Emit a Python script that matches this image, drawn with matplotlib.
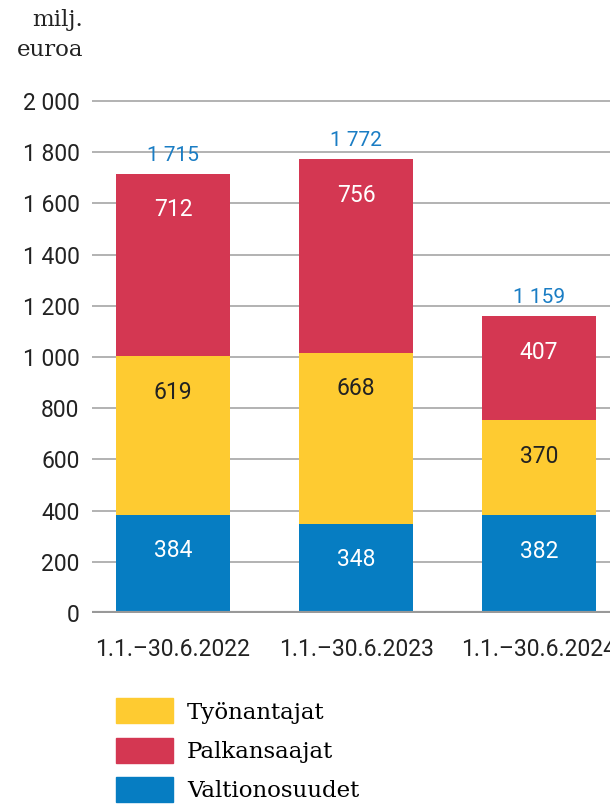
import matplotlib
matplotlib.use("Agg")
import matplotlib.pyplot as plt
from matplotlib.patches import Patch

periods = ["1.1.\u201330.6.2022", "1.1.\u201330.6.2023", "1.1.\u201330.6.2024"]
valtionosuudet = [384, 348, 382]
tyonantajat = [619, 668, 370]
palkansaajat = [712, 756, 407]
totals = [1715, 1772, 1159]
yticks = [0, 200, 400, 600, 800, 1000, 1200, 1400, 1600, 1800, 2000]

BLUE = "#067dc2"
YELLOW = "#fecb31"
RED = "#d43752"
TOTAL_BLUE = "#1a7dc4"
GRID = "#a6a6a6"
TXT = "#222222"
FS = 16.5

plt.rcParams["font.family"] = ["Roboto", "DejaVu Sans"]


def fmt(v):
    return f"{v:,}".replace(",", " ")


fig = plt.figure(figsize=(6.10, 8.07), dpi=100)
ax = fig.add_axes([0.1508, 0.2404, 0.8492, 0.6503])

x = list(range(len(periods)))
w = 0.62
ax.bar(x, valtionosuudet, w, color=BLUE, zorder=3)
ax.bar(x, tyonantajat, w, bottom=valtionosuudet, color=YELLOW, zorder=3)
bottom2 = [a + b for a, b in zip(valtionosuudet, tyonantajat)]
ax.bar(x, palkansaajat, w, bottom=bottom2, color=RED, zorder=3)

# segment labels, placed just below the top of each segment
off = 140
for i in x:
    ax.text(i, valtionosuudet[i] - off, str(valtionosuudet[i]), ha="center", va="center",
            color="white", fontsize=FS, zorder=4)
    ax.text(i, bottom2[i] - off, str(tyonantajat[i]), ha="center", va="center",
            color=TXT, fontsize=FS, zorder=4)
    ax.text(i, bottom2[i] + palkansaajat[i] - off, str(palkansaajat[i]), ha="center",
            va="center", color="white", fontsize=FS, zorder=4)
    ax.text(i, totals[i] + 72, fmt(totals[i]), ha="center", va="center",
            color=TOTAL_BLUE, fontsize=15, zorder=4)

ax.set_xlim(-0.443, 2.388)
ax.set_ylim(0, 2050)
ax.set_yticks(yticks)
ax.set_yticklabels([fmt(v) for v in yticks])
ax.set_xticks(x)
ax.set_xticklabels(periods)
ax.tick_params(axis="both", length=0, labelsize=FS, colors=TXT)
ax.tick_params(axis="y", pad=9)
ax.tick_params(axis="x", pad=18)
for s in ax.spines.values():
    s.set_visible(False)
ax.grid(axis="y", color=GRID, linewidth=1.2, zorder=0)
ax.axhline(0, color="#999999", linewidth=3, zorder=5)

fig.text(0.136, 0.975, "milj.", ha="right", va="center", fontsize=FS, color=TXT,
         family=["DejaVu Serif"])
fig.text(0.136, 0.938, "euroa", ha="right", va="center", fontsize=FS, color=TXT,
         family=["DejaVu Serif"])

handles = [Patch(color=YELLOW, label="Työnantajat"),
           Patch(color=RED, label="Palkansaajat"),
           Patch(color=BLUE, label="Valtionosuudet")]
fig.legend(handles=handles, loc="upper left", bbox_to_anchor=(0.19, 0.1345),
           frameon=False, handlelength=2.5, handleheight=1.3,
           labelspacing=0.62, handletextpad=0.6, borderaxespad=0, borderpad=0,
           prop={"family": "DejaVu Serif", "size": FS})

fig.savefig("out.png", dpi=100)
